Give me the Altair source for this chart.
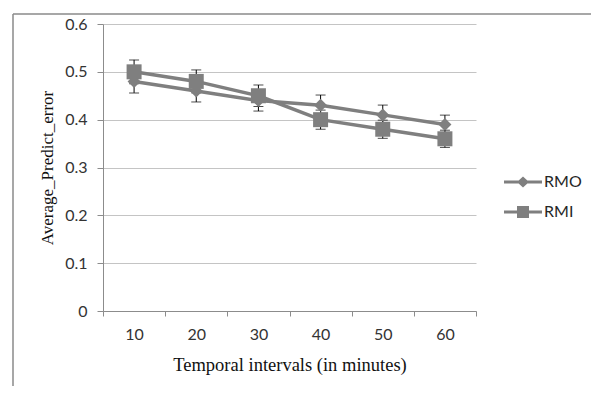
import altair as alt
import pandas as pd

intervals = [10, 20, 30, 40, 50, 60]
series = ["RMO", "RMI"]
rmo = [0.48, 0.46, 0.44, 0.43, 0.41, 0.39]
rmi = [0.50, 0.48, 0.45, 0.40, 0.38, 0.36]
rmo_err = [0.024, 0.023, 0.022, 0.0215, 0.0205, 0.0195]
rmi_err = [0.025, 0.024, 0.0225, 0.020, 0.019, 0.018]
y_ticks = [0, 0.1, 0.2, 0.3, 0.4, 0.5, 0.6]

rows = []
for name, vals, errs in (("RMO", rmo, rmo_err), ("RMI", rmi, rmi_err)):
    for t, v, e in zip(intervals, vals, errs):
        rows.append({"interval": t, "series": name, "value": v, "lo": v - e, "hi": v + e})
df = pd.DataFrame(rows)

GRAY = "#7f7f7f"
AXIS_GRAY = "#8c8c8c"
W, H = 373, 287

x_enc = alt.X(
    "interval:O",
    scale=alt.Scale(type="band", paddingInner=0, paddingOuter=0),
    axis=alt.Axis(
        title="Temporal intervals (in minutes)",
        labelAngle=0,
        tickBand="extent",
        grid=False,
        domainColor=AXIS_GRAY,
        tickColor=AXIS_GRAY,
        tickSize=5,
        labelPadding=10,
        titlePadding=13,
        titleFontSize=18.5,
    ),
)
y_scale = alt.Scale(domain=[0, 0.6], nice=False, zero=True)
y_axis = alt.Axis(
    title="Average_Predict_error",
    values=y_ticks,
    format=".1~f",
    grid=True,
    gridColor="#c4c4c4",
    domainColor=AXIS_GRAY,
    tickColor=AXIS_GRAY,
    tickSize=6,
    labelPadding=10,
    titlePadding=8,
    titleFontSize=17,
)

err_rule = alt.Chart(df).mark_rule(color="black", strokeWidth=1).encode(
    x=x_enc,
    y=alt.Y("lo:Q", scale=y_scale, axis=y_axis),
    y2="hi:Q",
)
cap_hi = alt.Chart(df).mark_tick(color="black", size=10, thickness=1).encode(
    x=x_enc, y=alt.Y("hi:Q", scale=y_scale, axis=y_axis)
)
cap_lo = alt.Chart(df).mark_tick(color="black", size=10, thickness=1).encode(
    x=x_enc, y=alt.Y("lo:Q", scale=y_scale, axis=y_axis)
)
lines = alt.Chart(df).mark_line(color=GRAY, strokeWidth=3.5).encode(
    x=x_enc,
    y=alt.Y("value:Q", scale=y_scale, axis=y_axis),
    detail="series:N",
)
pts_rmo = alt.Chart(df).transform_filter("datum.series == 'RMO'").mark_point(
    shape="diamond", filled=True, size=169, color=GRAY, opacity=1
).encode(x=x_enc, y=alt.Y("value:Q", scale=y_scale, axis=y_axis))
pts_rmi = alt.Chart(df).transform_filter("datum.series == 'RMI'").mark_point(
    shape="square", filled=True, size=225, color=GRAY, opacity=1
).encode(x=x_enc, y=alt.Y("value:Q", scale=y_scale, axis=y_axis))

# legend symbols: a filled bar (the line) plus the marker, all filled
leg_paths = [
    "M-1.9,-0.15H1.9V0.15H-1.9Z M-0.6,0L0,-0.55L0.6,0L0,0.55Z",
    "M-1.9,-0.15H1.9V0.15H-1.9Z M-0.6,-0.6H0.6V0.6H-0.6Z",
]
legend_layer = alt.Chart(df).transform_filter("false").mark_point(
    filled=True, color=GRAY, opacity=1, size=400
).encode(
    x=x_enc,
    y=alt.Y("value:Q", scale=y_scale, axis=y_axis),
    shape=alt.Shape(
        "series:N",
        scale=alt.Scale(domain=series, range=leg_paths),
        legend=alt.Legend(
            title=None,
            orient="none",
            legendX=410,
            legendY=148,
            symbolSize=400,
            symbolFillColor=GRAY,
            symbolStrokeWidth=0,
            labelOffset=11,
            rowPadding=12,
            labelFont="Lato",
            labelFontSize=16,
            labelColor="#262626",
        ),
    ),
)

frame_data = alt.Data(values=[{"k": 1}])
frame_left = alt.Chart(frame_data).mark_rule(color="#8a8a8a", strokeWidth=1.5).encode(
    x=alt.value(-90), y=alt.value(-10), y2=alt.value(H + 100)
)
frame_top = alt.Chart(frame_data).mark_rule(color="#8a8a8a", strokeWidth=1.5).encode(
    x=alt.value(-90), x2=alt.value(520), y=alt.value(-10), y2=alt.value(-10)
)

chart = alt.layer(
    frame_left, frame_top, err_rule, cap_hi, cap_lo, lines, pts_rmo, pts_rmi, legend_layer
).properties(
    width=W,
    height=H,
    autosize=alt.AutoSizeParams(type="none"),
    padding={"left": 95, "top": 16, "right": 115, "bottom": 75},
).configure_view(stroke=None).configure_axis(
    labelFont="Lato",
    labelFontSize=16,
    labelColor="#333333",
    titleFont="Liberation Serif",
    titleFontWeight="normal",
    titleColor="#111111",
)

chart.save("out.html", embed_options={"renderer": "svg", "actions": False})
